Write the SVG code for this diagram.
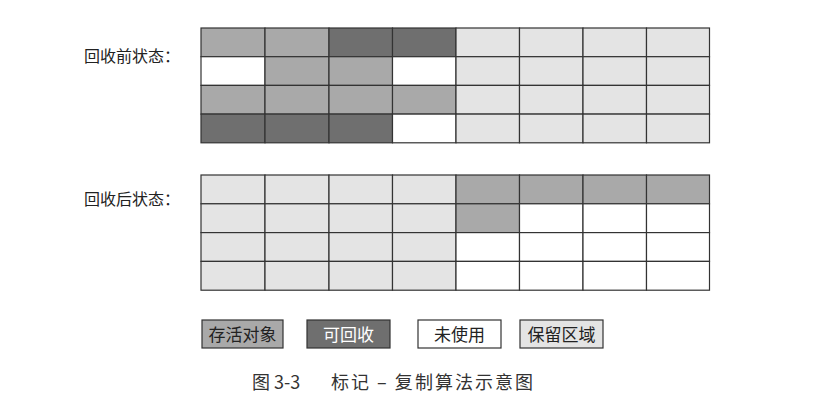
<svg xmlns="http://www.w3.org/2000/svg" width="827" height="416" viewBox="0 0 827 416">
<style>
.c{stroke:#333;stroke-width:1.2}
.m{fill:#a9a9a9}
.d{fill:#6f6f6f}
.w{fill:#ffffff}
.l{fill:#e4e4e4}
.t{font-family:"Noto Sans CJK SC","Noto Sans CJK JP",sans-serif;fill:#222}
</style>
<rect width="827" height="416" fill="#ffffff"/>
<text class="t" x="84" y="62" font-size="16">回收前状态：</text>
<text class="t" x="84" y="205" font-size="16">回收后状态：</text>
<g id="before">
<rect class="c m" x="201" y="28" width="64" height="28.7"/>
<rect class="c m" x="265" y="28" width="64" height="28.7"/>
<rect class="c d" x="329" y="28" width="63.5" height="28.7"/>
<rect class="c d" x="392.5" y="28" width="63.5" height="28.7"/>
<rect class="c l" x="456" y="28" width="63.5" height="28.7"/>
<rect class="c l" x="519.5" y="28" width="63.5" height="28.7"/>
<rect class="c l" x="583" y="28" width="63.5" height="28.7"/>
<rect class="c l" x="646.5" y="28" width="63" height="28.7"/>

<rect class="c w" x="201" y="56.7" width="64" height="28.7"/>
<rect class="c m" x="265" y="56.7" width="64" height="28.7"/>
<rect class="c m" x="329" y="56.7" width="63.5" height="28.7"/>
<rect class="c w" x="392.5" y="56.7" width="63.5" height="28.7"/>
<rect class="c l" x="456" y="56.7" width="63.5" height="28.7"/>
<rect class="c l" x="519.5" y="56.7" width="63.5" height="28.7"/>
<rect class="c l" x="583" y="56.7" width="63.5" height="28.7"/>
<rect class="c l" x="646.5" y="56.7" width="63" height="28.7"/>

<rect class="c m" x="201" y="85.4" width="64" height="28.7"/>
<rect class="c m" x="265" y="85.4" width="64" height="28.7"/>
<rect class="c m" x="329" y="85.4" width="63.5" height="28.7"/>
<rect class="c m" x="392.5" y="85.4" width="63.5" height="28.7"/>
<rect class="c l" x="456" y="85.4" width="63.5" height="28.7"/>
<rect class="c l" x="519.5" y="85.4" width="63.5" height="28.7"/>
<rect class="c l" x="583" y="85.4" width="63.5" height="28.7"/>
<rect class="c l" x="646.5" y="85.4" width="63" height="28.7"/>

<rect class="c d" x="201" y="114.1" width="64" height="28.7"/>
<rect class="c d" x="265" y="114.1" width="64" height="28.7"/>
<rect class="c d" x="329" y="114.1" width="63.5" height="28.7"/>
<rect class="c w" x="392.5" y="114.1" width="63.5" height="28.7"/>
<rect class="c l" x="456" y="114.1" width="63.5" height="28.7"/>
<rect class="c l" x="519.5" y="114.1" width="63.5" height="28.7"/>
<rect class="c l" x="583" y="114.1" width="63.5" height="28.7"/>
<rect class="c l" x="646.5" y="114.1" width="63" height="28.7"/>
</g>
<g id="after">
<rect class="c l" x="201" y="175" width="64" height="28.8"/>
<rect class="c l" x="265" y="175" width="64" height="28.8"/>
<rect class="c l" x="329" y="175" width="63.5" height="28.8"/>
<rect class="c l" x="392.5" y="175" width="63.5" height="28.8"/>
<rect class="c m" x="456" y="175" width="63.5" height="28.8"/>
<rect class="c m" x="519.5" y="175" width="63.5" height="28.8"/>
<rect class="c m" x="583" y="175" width="63.5" height="28.8"/>
<rect class="c m" x="646.5" y="175" width="63" height="28.8"/>

<rect class="c l" x="201" y="203.8" width="64" height="28.8"/>
<rect class="c l" x="265" y="203.8" width="64" height="28.8"/>
<rect class="c l" x="329" y="203.8" width="63.5" height="28.8"/>
<rect class="c l" x="392.5" y="203.8" width="63.5" height="28.8"/>
<rect class="c m" x="456" y="203.8" width="63.5" height="28.8"/>
<rect class="c w" x="519.5" y="203.8" width="63.5" height="28.8"/>
<rect class="c w" x="583" y="203.8" width="63.5" height="28.8"/>
<rect class="c w" x="646.5" y="203.8" width="63" height="28.8"/>

<rect class="c l" x="201" y="232.6" width="64" height="28.8"/>
<rect class="c l" x="265" y="232.6" width="64" height="28.8"/>
<rect class="c l" x="329" y="232.6" width="63.5" height="28.8"/>
<rect class="c l" x="392.5" y="232.6" width="63.5" height="28.8"/>
<rect class="c w" x="456" y="232.6" width="63.5" height="28.8"/>
<rect class="c w" x="519.5" y="232.6" width="63.5" height="28.8"/>
<rect class="c w" x="583" y="232.6" width="63.5" height="28.8"/>
<rect class="c w" x="646.5" y="232.6" width="63" height="28.8"/>

<rect class="c l" x="201" y="261.4" width="64" height="28.8"/>
<rect class="c l" x="265" y="261.4" width="64" height="28.8"/>
<rect class="c l" x="329" y="261.4" width="63.5" height="28.8"/>
<rect class="c l" x="392.5" y="261.4" width="63.5" height="28.8"/>
<rect class="c w" x="456" y="261.4" width="63.5" height="28.8"/>
<rect class="c w" x="519.5" y="261.4" width="63.5" height="28.8"/>
<rect class="c w" x="583" y="261.4" width="63.5" height="28.8"/>
<rect class="c w" x="646.5" y="261.4" width="63" height="28.8"/>
</g>
<g id="legend-live">
<rect class="c m" x="202" y="320" width="81" height="28"/>
<text class="t" x="242.5" y="340.5" font-size="17" text-anchor="middle">存活对象</text>
</g>
<g id="legend-reclaim">
<rect class="c d" x="307" y="320" width="83" height="28"/>
<text class="t" x="348.5" y="340.5" font-size="17" text-anchor="middle" style="fill:#fff">可回收</text>
</g>
<g id="legend-unused">
<rect class="c w" x="418" y="320" width="83" height="28"/>
<text class="t" x="459.5" y="340.5" font-size="17" text-anchor="middle">未使用</text>
</g>
<g id="legend-reserved">
<rect class="c l" x="520" y="320" width="83" height="28"/>
<text class="t" x="561.5" y="340.5" font-size="17" text-anchor="middle">保留区域</text>
</g>
<g id="caption">
<text class="t" x="252" y="389" font-size="18" style="fill:#333">图 3-3</text>
<text class="t" x="331" y="389" font-size="18" style="fill:#333" textLength="202" lengthAdjust="spacing">标记 – 复制算法示意图</text>
</g>
</svg>
